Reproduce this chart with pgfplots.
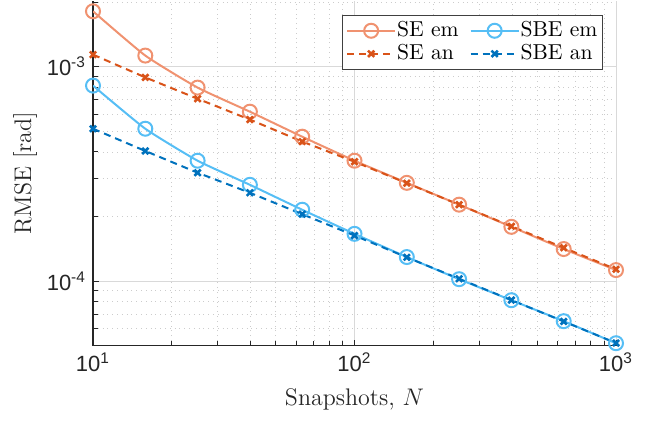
\documentclass[border=0pt]{standalone}
\usepackage{fontspec}
\usepackage{pgfplots}
\pgfplotsset{compat=1.18}
\newfontfamily\helv{Liberation Sans}

\definecolor{seem}{RGB}{240,146,112}
\definecolor{sean}{RGB}{217,83,25}
\definecolor{sbeem}{RGB}{86,190,245}
\definecolor{sbean}{RGB}{0,114,189}

\newcommand{\tl}[1]{\helv\fontsize{11}{13}\selectfont #1}
\newcommand{\lgd}[1]{\fontsize{10.8}{13}\selectfont #1}

\pgfplotsset{
  longleg/.style={legend image code/.code={\draw[mark repeat=2,mark phase=2,##1]
    plot coordinates {(0pt,0pt)(12pt,0pt)(24pt,0pt)};}},
}

\begin{document}
\begin{tikzpicture}
  \begin{axis}[
      xmode=log, ymode=log,
      scale only axis, width=261.5pt, height=172.5pt,
      xmin=10, xmax=1000, ymin=5e-5, ymax=2.03e-3,
      axis x line*=bottom, axis y line*=left,
      axis line style={-, black!85, line width=0.6pt},
      xtick={10,100,1000},
      xticklabels={\tl{10\textsuperscript{1}},\tl{10\textsuperscript{2}},\tl{10\textsuperscript{3}}},
      ytick={1e-4,1e-3},
      yticklabels={\tl{10\textsuperscript{-4}},\tl{10\textsuperscript{-3}}},
      minor xtick={20,30,40,50,60,70,80,90,200,300,400,500,600,700,800,900},
      minor ytick={6e-5,7e-5,8e-5,9e-5,2e-4,3e-4,4e-4,5e-4,6e-4,7e-4,8e-4,9e-4,2e-3},
      tick label style={black!85},
      major tick length=3pt, minor tick length=2.5pt,
      tick style={black!85, line width=0.5pt},
      grid=both,
      major grid style={gray!30, line width=0.4pt},
      minor grid style={gray!40, dotted, line width=0.4pt},
      xlabel={\fontsize{12}{14}\selectfont Snapshots, $N$},
      ylabel={\fontsize{12}{14}\selectfont RMSE [rad]},
      every axis x label/.style={at={(axis description cs:0.5,-0.157)}, anchor=center, black!85},
      every axis y label/.style={at={(axis description cs:-0.13,0.5)}, anchor=center, rotate=90, black!85},
      every axis plot post/.append style={longleg},
      legend columns=2,
      legend style={at={(axis description cs:0.975,0.959)}, anchor=north east,
        draw=black!75, line width=0.5pt,
        inner xsep=2pt, inner ysep=2pt, row sep=0pt,
        nodes={inner xsep=0.5pt, inner ysep=1.2pt},
        /tikz/every even column/.append style={column sep=5pt}},
      legend cell align=left,
    ]
    % SE em
    \addplot[seem, line width=1pt, smooth, tension=0.3, mark=o, mark size=3.5pt,
      mark options={solid, line width=1pt}, longleg] coordinates {
      (10,1.81e-3) (15.85,1.125e-3) (25.12,7.98e-4) (39.81,6.16e-4) (63.10,4.71e-4)
      (100,3.64e-4) (158.5,2.87e-4) (251.2,2.27e-4) (398.1,1.79e-4) (631.0,1.41e-4) (1000,1.125e-4)};
    \addlegendentry{\lgd{SE em}}
    % SBE em
    \addplot[sbeem, line width=1pt, smooth, tension=0.3, mark=o, mark size=3.5pt,
      mark options={solid, line width=1pt}, longleg] coordinates {
      (10,8.15e-4) (15.85,5.13e-4) (25.12,3.64e-4) (39.81,2.81e-4) (63.10,2.15e-4)
      (100,1.66e-4) (158.5,1.294e-4) (251.2,1.02e-4) (398.1,8.14e-5) (631.0,6.50e-5) (1000,5.13e-5)};
    \addlegendentry{\lgd{SBE em}}
    % SE an
    \addplot[sean, line width=1pt, dash pattern=on 3.5pt off 2.5pt, mark=x, mark size=2.2pt,
      mark options={solid, line width=1.3pt}, longleg] coordinates {
      (10,1.137e-3) (15.85,8.9e-4) (25.12,7.08e-4) (39.81,5.66e-4) (63.10,4.47e-4)
      (100,3.6e-4) (158.5,2.86e-4) (251.2,2.27e-4) (398.1,1.80e-4) (631.0,1.43e-4) (1000,1.135e-4)};
    \addlegendentry{\lgd{SE an}}
    % SBE an
    \addplot[sbean, line width=1pt, dash pattern=on 3.5pt off 2.5pt, mark=x, mark size=2.2pt,
      mark options={solid, line width=1.3pt}, longleg] coordinates {
      (10,5.13e-4) (15.85,4.04e-4) (25.12,3.20e-4) (39.81,2.58e-4) (63.10,2.05e-4)
      (100,1.63e-4) (158.5,1.29e-4) (251.2,1.025e-4) (398.1,8.15e-5) (631.0,6.48e-5) (1000,5.14e-5)};
    \addlegendentry{\lgd{SBE an}}
  \end{axis}
  \path ([xshift=-46.5pt]current axis.west) ([xshift=18pt]current axis.east)
        ([yshift=-38pt]current axis.south);
\end{tikzpicture}
\end{document}
